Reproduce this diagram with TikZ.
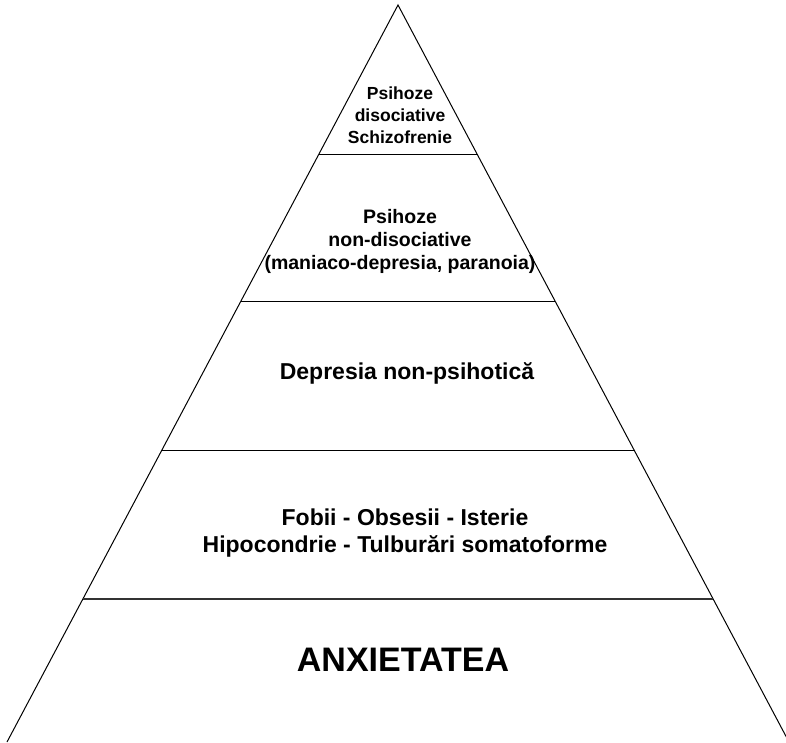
\documentclass[tikz,border=0pt]{standalone}
\usepackage{fontspec}
\setmainfont{Liberation Sans}
\begin{document}
\begin{tikzpicture}[x=1pt,y=-1pt,
  tier/.style={draw=black,line width=1pt},
  baseline/.style={draw=black!80,line width=2pt},
  lbl/.style={inner sep=0pt,align=center,font=\bfseries}]
\useasboundingbox (0,0) rectangle (786,742);
\clip (0,0) rectangle (786,742);
\coordinate (apex) at (398,5);
\coordinate (bl) at (7,742);
\coordinate (br) at (789,742);
\coordinate (l1) at (319,154);   \coordinate (r1) at (477,154);
\coordinate (l2) at (240.9,301); \coordinate (r2) at (555.1,301);
\coordinate (l3) at (161.9,450); \coordinate (r3) at (634.1,450);
\coordinate (l4) at (82.9,599);  \coordinate (r4) at (713.1,599);
\draw[tier] (bl) -- (apex) -- (br);
\draw[tier] (l1) -- (r1);
\draw[tier] (l2) -- (r2);
\draw[tier] (l3) -- (r3);
\draw[baseline] (l4) -- (r4);
\node[lbl,font=\bfseries\fontsize{17.5}{22}\selectfont] (t1) at (400,115) {Psihoze\\disociative\\Schizofrenie};
\node[lbl,font=\bfseries\fontsize{19.5}{23}\selectfont] (t2) at (400,241) {Psihoze\\non-disociative\\(maniaco-depresia, paranoia)};
\node[lbl,font=\bfseries\fontsize{23}{27}\selectfont] (t3) at (407,373) {Depresia non-psihotică};
\node[lbl,font=\bfseries\fontsize{23}{27}\selectfont] (t4) at (405,533) {Fobii - Obsesii - Isterie\\Hipocondrie - Tulburări somatoforme};
\node[lbl,font=\bfseries\fontsize{34}{40}\selectfont] (t5) at (403,660) {ANXIETATEA};
\end{tikzpicture}
\end{document}
